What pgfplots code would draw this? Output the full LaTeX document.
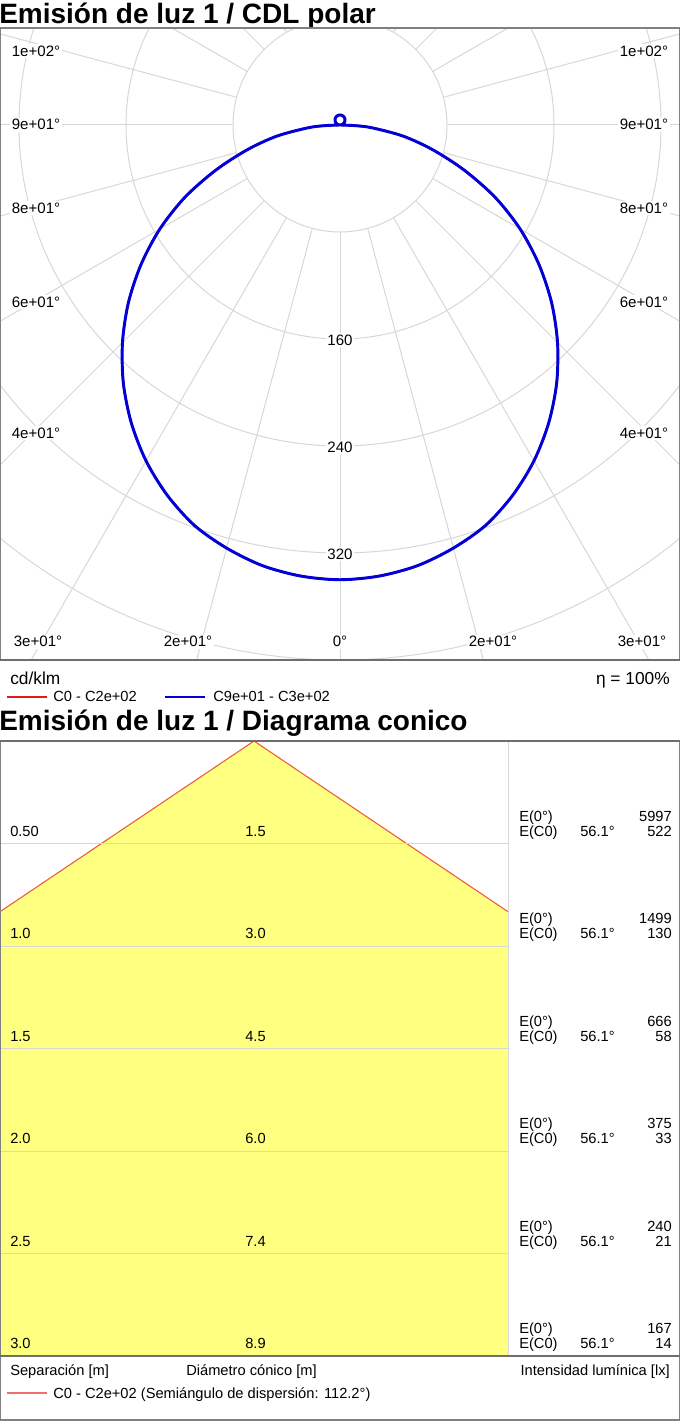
\documentclass[border=0pt]{standalone}
\usepackage{fontspec}
\setmainfont{Liberation Sans}
\usepackage{pgfplots}
\usepackage{pgfplotstable}
\pgfplotsset{compat=1.18}
\definecolor{gridc}{RGB}{215,215,215}
\definecolor{framec}{RGB}{128,128,128}
\definecolor{framedark}{RGB}{110,110,110}
\definecolor{curveblue}{RGB}{0,0,215}
\definecolor{curvered}{RGB}{225,25,25}
\definecolor{coneyellow}{RGB}{255,255,128}
\definecolor{conered}{RGB}{235,90,60}
\definecolor{legred}{RGB}{240,110,110}

% polar intensity curve (cd/klm), angle from nadir
\pgfplotstableread{
a r
-180 7.5
-170 7.4
-160 7.05
-150 6.5
-140 5.75
-130 4.8
-120 3.75
-110 2.6
-100 1.3
-90 0.3
-87.5 11.5
-85 24
-80 48
-75 72
-70 99
-65 128
-60 155.5
-55 181.5
-50 206.5
-45 230
-40 252
-35 272
-30 290
-25 305.5
-20 318.5
-15 327.5
-10 334.5
-5 338.5
0 340
5 338.5
10 334.5
15 327.5
20 318.5
25 305.5
30 290
35 272
40 252
45 230
50 206.5
55 181.5
60 155.5
65 128
70 99
75 72
80 48
85 24
87.5 11.5
90 0.3
100 1.3
110 2.6
120 3.75
130 4.8
140 5.75
150 6.5
160 7.05
170 7.4
180 7.5
}\polardata

\begin{document}
\begin{tikzpicture}
\path[use as bounding box] (0pt,0pt) rectangle (510pt,1066.5pt);

% ---------------- polar diagram ----------------
\begin{axis}[at={(0pt,571.5pt)}, anchor=south west, scale only axis,
  width=510pt, height=474pt,
  xmin=-254.2056, xmax=254.2056, ymin=-400, ymax=72.5234,
  hide axis, clip=true]
\draw[gridc, line width=0.75pt] (axis cs:0,0) circle[radius=80];
\draw[gridc, line width=0.75pt] (axis cs:0,0) circle[radius=160];
\draw[gridc, line width=0.75pt] (axis cs:0,0) circle[radius=240];
\draw[gridc, line width=0.75pt] (axis cs:0,0) circle[radius=320];
\draw[gridc, line width=0.75pt] (axis cs:0,0) circle[radius=400];
\draw[gridc, line width=0.75pt] (axis cs:0,0) circle[radius=480];
\pgfplotsinvokeforeach{0,15,...,345}{
  \draw[gridc, line width=0.75pt] (axis cs:{80*sin(#1)},{-80*cos(#1)}) -- (axis cs:{700*sin(#1)},{-700*cos(#1)});
}
\addplot[curvered, line width=1.6pt, smooth, tension=0.5] table[x expr={\thisrow{r}*sin(\thisrow{a})}, y expr={-\thisrow{r}*cos(\thisrow{a})}] {\polardata};
\addplot[curveblue, line width=2.2pt, smooth, tension=0.5] table[x expr={\thisrow{r}*sin(\thisrow{a})}, y expr={-\thisrow{r}*cos(\thisrow{a})}] {\polardata};
\end{axis}

% ---------------- conic diagram ----------------
\begin{axis}[at={(0pt,49.5pt)}, anchor=south west, scale only axis,
  width=381pt, height=461.25pt,
  xmin=-1.239, xmax=1.239, ymin=0, ymax=3, y dir=reverse,
  axis on top, axis line style={draw=none},
  xtick=\empty, ytick={0.5,1,1.5,2,2.5}, yticklabels={},
  tick style={draw=none}, ymajorgrids,
  major grid style={gridc, line width=0.75pt}]
\addplot[fill=coneyellow, draw=none] coordinates {(0,0) (1.239,0.8326) (1.239,3) (-1.239,3) (-1.239,0.8326)} -- cycle;
\addplot[conered, line width=0.8pt] coordinates {(-1.239,0.8326) (0,0) (1.239,0.8326)};
\end{axis}

\begin{scope}[x=0.75pt,y=0.75pt]
% titles
\node[anchor=base west, inner sep=0, font=\fontsize{21}{24}\selectfont\bfseries] at (-1,1398) {Emisión de luz 1 / CDL polar};
\node[anchor=base west, inner sep=0, font=\fontsize{21}{24}\selectfont\bfseries] at (-1,691) {Emisión de luz 1 / Diagrama conico};

% polar frame
\draw[framec, line width=1pt] (0,762) -- (0,1394);
\draw[framec, line width=1pt] (680,762) -- (680,1394);
\draw[framedark, line width=1.1pt] (0,762) -- (680,762);
\draw[framec, line width=2.2pt] (0,1394) -- (680,1394);

% polar labels
\begin{scope}[every node/.style={font=\fontsize{11.3}{13}\selectfont, fill=white, inner sep=1.2pt}]
\node[anchor=base west] at (10,1365.6) {1e+02°};
\node[anchor=base west] at (10,1292) {9e+01°};
\node[anchor=base west] at (10,1208.6) {8e+01°};
\node[anchor=base west] at (10,1114.6) {6e+01°};
\node[anchor=base west] at (10,983.6) {4e+01°};
\node[anchor=base east] at (670,1365.6) {1e+02°};
\node[anchor=base east] at (670,1292) {9e+01°};
\node[anchor=base east] at (670,1208.6) {8e+01°};
\node[anchor=base east] at (670,1114.6) {6e+01°};
\node[anchor=base east] at (670,983.6) {4e+01°};
\node[anchor=base] at (38,775) {3e+01°};
\node[anchor=base] at (188,775) {2e+01°};
\node[anchor=base] at (340,775) {0°};
\node[anchor=base] at (493,775) {2e+01°};
\node[anchor=base] at (642,775) {3e+01°};
\node[anchor=base] at (340,1076.6) {160};
\node[anchor=base] at (340,969.6) {240};
\node[anchor=base] at (340,862.6) {320};
\end{scope}

% polar footer
\node[anchor=base west, inner sep=0, font=\fontsize{13}{15}\selectfont] at (10,737) {cd/klm};
\node[anchor=base east, inner sep=0, font=\fontsize{13}{15}\selectfont] at (670,737) {η = 100\%};
\draw[curvered, line width=2.2pt] (7,725) -- (47,725);
\node[anchor=base west, inner sep=0, font=\fontsize{11}{13}\selectfont] at (53,720) {C0 - C2e+02};
\draw[curveblue, line width=2.2pt] (165,725) -- (205,725);
\node[anchor=base west, inner sep=0, font=\fontsize{11}{13}\selectfont] at (213,720) {C9e+01 - C3e+02};

% conic frame
\draw[gridc, line width=0.75pt] (508,66) -- (508,681);
\draw[framec, line width=1pt] (0,2) -- (0,681);
\draw[framec, line width=1pt] (680,2) -- (680,681);
\draw[framec, line width=1pt] (0,2) -- (680,2);
\draw[framedark, line width=1.1pt] (0,66) -- (680,66);
\draw[framedark, line width=2.2pt] (0,681) -- (680,681);

% row texts
\begin{scope}[every node/.style={font=\fontsize{11}{13}\selectfont, inner sep=0}]
\foreach \yl/\sep/\dia/\ez/\ec in {585.5/0.50/1.5/5997/522, 483/1.0/3.0/1499/130, 380.5/1.5/4.5/666/58, 278/2.0/6.0/375/33, 175.5/2.5/7.4/240/21, 73/3.0/8.9/167/14}{
  \node[anchor=base west] at (10,\yl) {\sep};
  \node[anchor=base west] at (245,\yl) {\dia};
  \node[anchor=base west] at (519,\yl+15) {E(0°)};
  \node[anchor=base west] at (519,\yl) {E(C0)};
  \node[anchor=base west] at (580,\yl) {56.1°};
  \node[anchor=base east] at (672,\yl+15) {\ez};
  \node[anchor=base east] at (672,\yl) {\ec};
}
\node[anchor=base west] at (10,46.5) {Separación [m]};
\node[anchor=base west] at (186,46.5) {Diámetro cónico [m]};
\node[anchor=base east] at (670,46.5) {Intensidad lumínica [lx]};
\node[anchor=base west] at (53,23.5) {C0 - C2e+02 (Semiángulo de dispersión: 112.2°)};
\end{scope}
\draw[legred, line width=1pt] (7,29) -- (47,29);
\end{scope}
\end{tikzpicture}
\end{document}
